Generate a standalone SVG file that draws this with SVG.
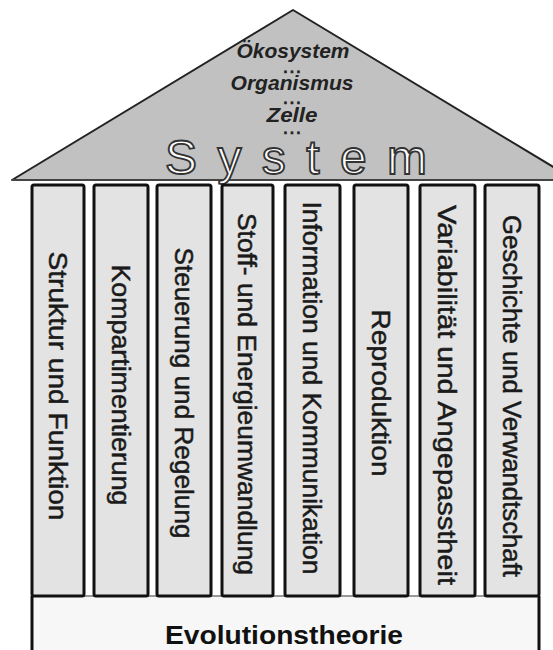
<svg xmlns="http://www.w3.org/2000/svg" width="553" height="650" viewBox="0 0 553 650">
<style>
.col{fill:#e3e3e3;stroke:#111;stroke-width:3}
.ct{font-family:"Liberation Sans",Arial,sans-serif;font-size:26px;fill:#1a1a1a;stroke:#1a1a1a;stroke-width:0.5;text-anchor:middle}
.rt{font-family:"Liberation Sans",Arial,sans-serif;font-size:20px;font-weight:bold;font-style:italic;fill:#222;text-anchor:middle}
.dt{font-family:"Liberation Sans",Arial,sans-serif;font-size:14px;font-weight:bold;fill:#222;stroke:#222;stroke-width:0.6;text-anchor:middle}
</style>
<rect width="553" height="650" fill="#fff"/>
<g id="roof">
<polygon points="12,180 293,10 575,180" fill="#c1c1c1" stroke="#222" stroke-width="2" stroke-linejoin="round"/>
<line x1="12" y1="180" x2="553" y2="180" stroke="#444" stroke-width="2"/>
<text class="rt" x="293" y="58" textLength="113" lengthAdjust="spacingAndGlyphs">Ökosystem</text>
<text class="dt" x="292" y="73" textLength="17" lengthAdjust="spacing">...</text>
<text class="rt" x="292" y="90" textLength="123" lengthAdjust="spacingAndGlyphs">Organismus</text>
<text class="dt" x="292" y="104" textLength="17" lengthAdjust="spacing">...</text>
<text class="rt" x="292" y="122" textLength="51" lengthAdjust="spacingAndGlyphs">Zelle</text>
<text class="dt" x="292" y="134" textLength="17" lengthAdjust="spacing">...</text>
<text x="296" y="174" font-family="'Liberation Sans',Arial,sans-serif" font-size="48" fill="#fff" stroke="#333" stroke-width="1.8" text-anchor="middle" textLength="262" lengthAdjust="spacing">System</text>
</g>
<g id="base">
<rect x="32" y="596" width="507" height="60" fill="#f7f7f7"/>
<line x1="32" y1="596" x2="539" y2="596" stroke="#777" stroke-width="1.5"/>
<line x1="32" y1="596" x2="32" y2="650" stroke="#111" stroke-width="3"/>
<line x1="539" y1="596" x2="539" y2="650" stroke="#111" stroke-width="3"/>
<text x="284" y="644" font-family="'Liberation Sans',Arial,sans-serif" font-size="25" font-weight="bold" fill="#111" text-anchor="middle" textLength="238" lengthAdjust="spacingAndGlyphs">Evolutionstheorie</text>
</g>
<g id="col1"><rect class="col" x="32" y="185" width="52" height="411" rx="2"/><text class="ct" transform="translate(58,386) rotate(90)" y="9" textLength="269" lengthAdjust="spacingAndGlyphs">Struktur und Funktion</text></g>
<g id="col2"><rect class="col" x="94" y="185" width="54" height="411" rx="2"/><text class="ct" transform="translate(121,385) rotate(90)" y="9" textLength="241" lengthAdjust="spacingAndGlyphs">Kompartimentierung</text></g>
<g id="col3"><rect class="col" x="157" y="185" width="54" height="411" rx="2"/><text class="ct" transform="translate(184,393) rotate(90)" y="9" textLength="291" lengthAdjust="spacingAndGlyphs">Steuerung und Regelung</text></g>
<g id="col4"><rect class="col" x="222" y="185" width="51" height="411" rx="2"/><text class="ct" transform="translate(247,394) rotate(90)" y="9" textLength="362" lengthAdjust="spacingAndGlyphs">Stoff- und Energieumwandlung</text></g>
<g id="col5"><rect class="col" x="285" y="185" width="55" height="411" rx="2"/><text class="ct" transform="translate(312,388) rotate(90)" y="9" textLength="373" lengthAdjust="spacingAndGlyphs">Information und Kommunikation</text></g>
<g id="col6"><rect class="col" x="354" y="185" width="54" height="411" rx="2"/><text class="ct" transform="translate(381,393) rotate(90)" y="9" textLength="167" lengthAdjust="spacingAndGlyphs">Reproduktion</text></g>
<g id="col7"><rect class="col" x="420" y="185" width="55" height="411" rx="2"/><text class="ct" transform="translate(447,395) rotate(90)" y="9" textLength="380" lengthAdjust="spacingAndGlyphs">Variabilität und Angepasstheit</text></g>
<g id="col8"><rect class="col" x="485" y="185" width="54" height="411" rx="2"/><text class="ct" transform="translate(512,396) rotate(90)" y="9" textLength="362" lengthAdjust="spacingAndGlyphs">Geschichte und Verwandtschaft</text></g>
<g id="connectors"></g>
</svg>
